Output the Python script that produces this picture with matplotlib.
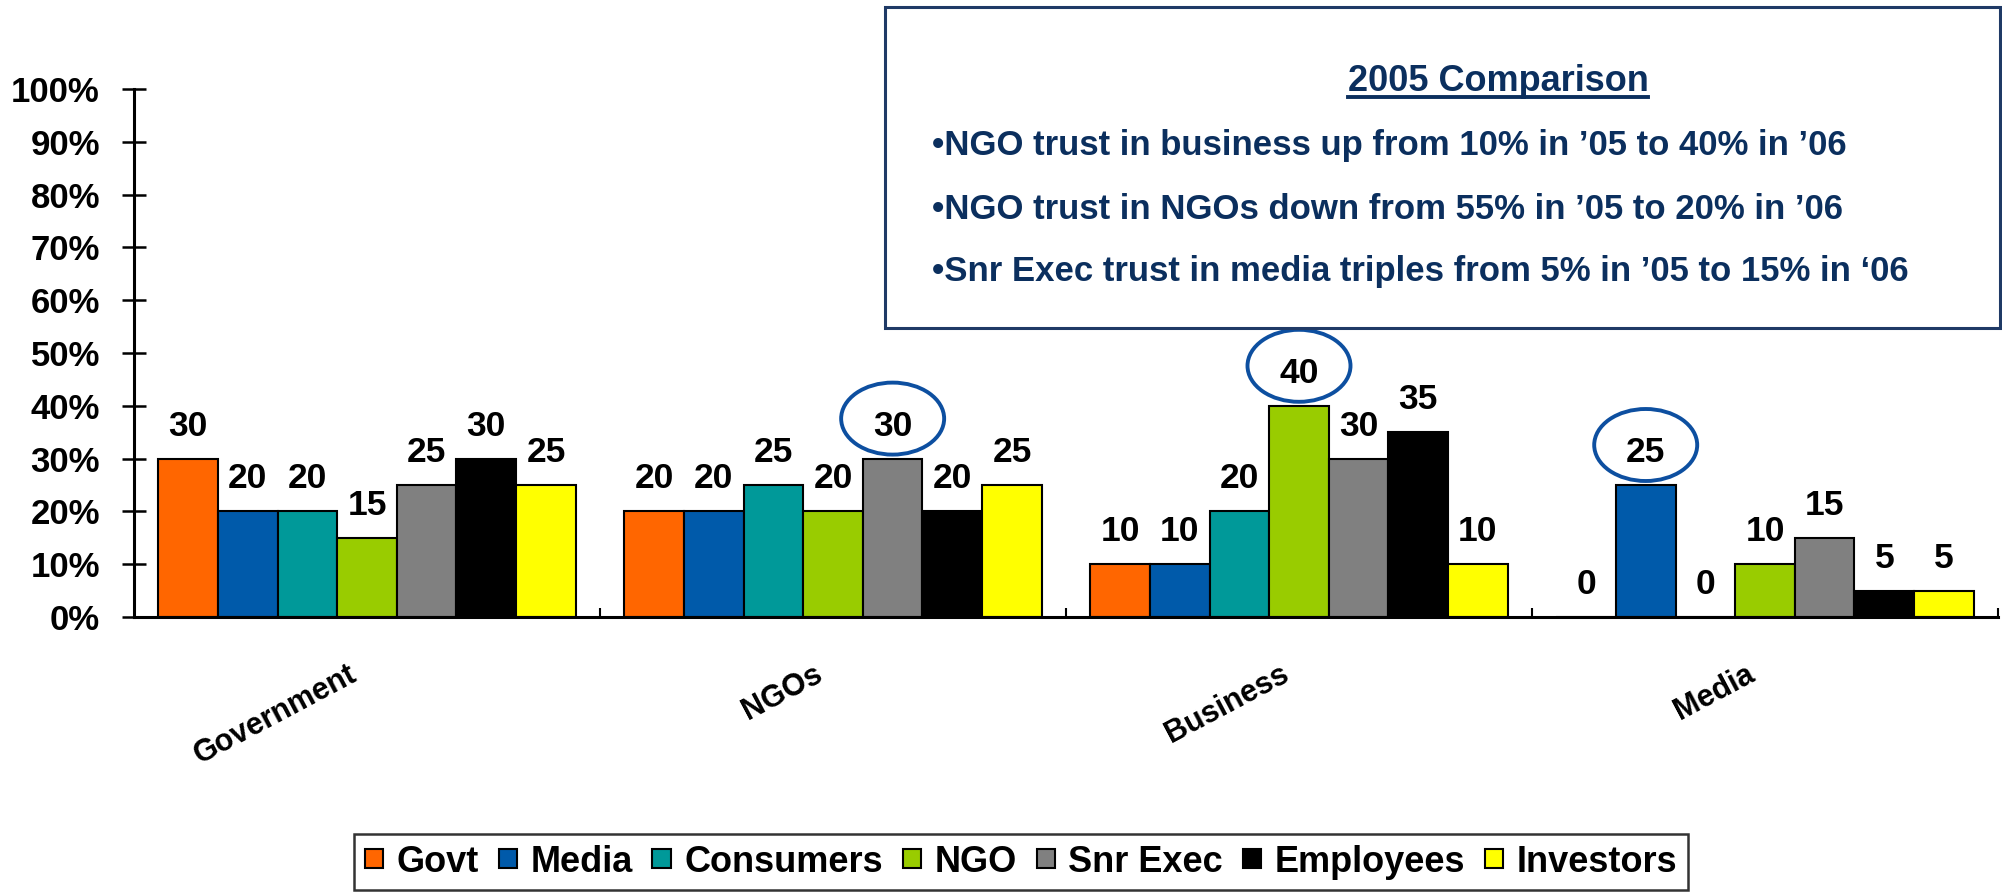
import matplotlib
matplotlib.use("Agg")
import matplotlib.pyplot as plt
import numpy as np
from matplotlib.patches import Ellipse, Rectangle
from matplotlib.lines import Line2D

plt.rcParams['font.family'] = ['Liberation Sans', 'DejaVu Sans']
plt.rcParams['font.weight'] = 'bold'

categories = ["Government", "NGOs", "Business", "Media"]
series = ["Govt", "Media", "Consumers", "NGO", "Snr Exec", "Employees", "Investors"]
govt = [30, 20, 10, 0]
media = [20, 20, 10, 25]
consumers = [20, 25, 20, 0]
ngo = [15, 20, 40, 10]
snr_exec = [25, 30, 30, 15]
employees = [30, 20, 35, 5]
investors = [25, 25, 10, 5]
values = [govt, media, consumers, ngo, snr_exec, employees, investors]
colors = ["#FF6600", "#005AAA", "#009999", "#99CC00", "#808080", "#000000", "#FFFF00"]
ytick_labels = ["0%", "10%", "20%", "30%", "40%", "50%", "60%", "70%", "80%", "90%", "100%"]
# highlighted (category index, series index)
highlights = [(1, 4), (2, 3), (3, 1)]

box_title = "2005 Comparison"
box_lines = [
    "\u2022NGO trust in business up from 10% in \u201905 to 40% in \u201906",
    "\u2022NGO trust in NGOs down from 55% in \u201905 to 20% in \u201906",
    "\u2022Snr Exec trust in media triples from 5% in \u201905 to 15% in \u201806",
]

W, H = 2002, 892
fig = plt.figure(figsize=(W / 100, H / 100), dpi=100)
ax = fig.add_axes([134 / W, 1 - 617 / H, 1864 / W, 528 / H])

x = np.arange(len(categories))
bw = 0.128
n = len(series)
for j, (name, vals, c) in enumerate(zip(series, values, colors)):
    xs = x + (j - (n - 1) / 2) * bw
    hs = np.array(vals) / 100.0
    ax.bar(xs, hs, width=bw, color=c, edgecolor="black", linewidth=1.5,
           label=name, zorder=2)
    for xi, h, v in zip(xs, hs, vals):
        ax.annotate(f"{v}", xy=(xi, h), xytext=(0, 16.5), textcoords="offset points",
                    ha="center", va="baseline", fontsize=25.5, fontweight="bold",
                    color="black", zorder=4)

# highlight ellipses
px_per_x = 466.0
px_per_y = 528.0
for ci, sj in highlights:
    xc = x[ci] + (sj - (n - 1) / 2) * bw
    yc = values[sj][ci] / 100.0 + 40 / px_per_y
    e = Ellipse((xc, yc), width=103 / px_per_x, height=72 / px_per_y, fill=False,
                edgecolor="#0D4FA0", linewidth=2.8, zorder=5, clip_on=False)
    ax.add_patch(e)

ax.set_xlim(-0.5, 3.5)
ax.set_ylim(0, 1)
ax.spines["top"].set_visible(False)
ax.spines["right"].set_visible(False)
ax.spines["left"].set_linewidth(2.2)
ax.spines["bottom"].set_linewidth(2.2)
ax.set_yticks(np.linspace(0, 1, 11))
ax.set_yticklabels(ytick_labels, fontsize=25, fontweight="bold")
ax.tick_params(axis="y", direction="inout", length=17, width=1.8, pad=16)
ax.set_xticks(x)
ax.set_xticklabels([])
ax.tick_params(axis="x", which="major", length=0)
ax.set_xticks([0.5, 1.5, 2.5, 3.5], minor=True)
ax.tick_params(axis="x", which="minor", direction="in", length=6.5, width=1.5)

for i, cat in enumerate(categories):
    ax.annotate(cat, xy=(x[i], 0), xytext=(-9, -40), textcoords="offset points",
                rotation=28, rotation_mode="anchor", ha="right", va="center",
                fontsize=22, fontweight="bold", annotation_clip=False)

# legend
handles, labels = ax.get_legend_handles_labels()
leg = fig.legend(handles, labels, loc="center", bbox_to_anchor=(1021 / W, 1 - 862 / H),
                 ncol=7, fontsize=26, frameon=True, fancybox=False,
                 handlelength=0.5, handleheight=0.45, handletextpad=0.38,
                 columnspacing=0.55, borderpad=0.3, borderaxespad=0.2,
                 edgecolor="black")
leg.get_frame().set_linewidth(1.8)
for t in leg.get_texts():
    t.set_fontweight("bold")

# text box
navy = "#0B2F5E"
rect = Rectangle((885 / W, 1 - 328 / H), (2000 - 885) / W, (328 - 7) / H,
                 transform=fig.transFigure, facecolor="white", edgecolor="#1F3A66",
                 linewidth=2.2, zorder=10)
fig.add_artist(rect)
title = fig.text(1498 / W, 1 - 91 / H, box_title, ha="center", va="baseline",
                 fontsize=26, fontweight="bold", color=navy, zorder=11)
ys = [155, 219, 281]
for yy, line in zip(ys, box_lines):
    fig.text(932 / W, 1 - yy / H, line, ha="left", va="baseline", fontsize=25,
             fontweight="bold", color=navy, zorder=11)

fig.canvas.draw()
bb = title.get_window_extent(renderer=fig.canvas.get_renderer())
uy = 1 - 97 / H
fig.add_artist(Line2D([bb.x0 / W, bb.x1 / W], [uy, uy], transform=fig.transFigure,
                      color=navy, linewidth=2.8, zorder=11))

fig.savefig("out.png", dpi=100)
